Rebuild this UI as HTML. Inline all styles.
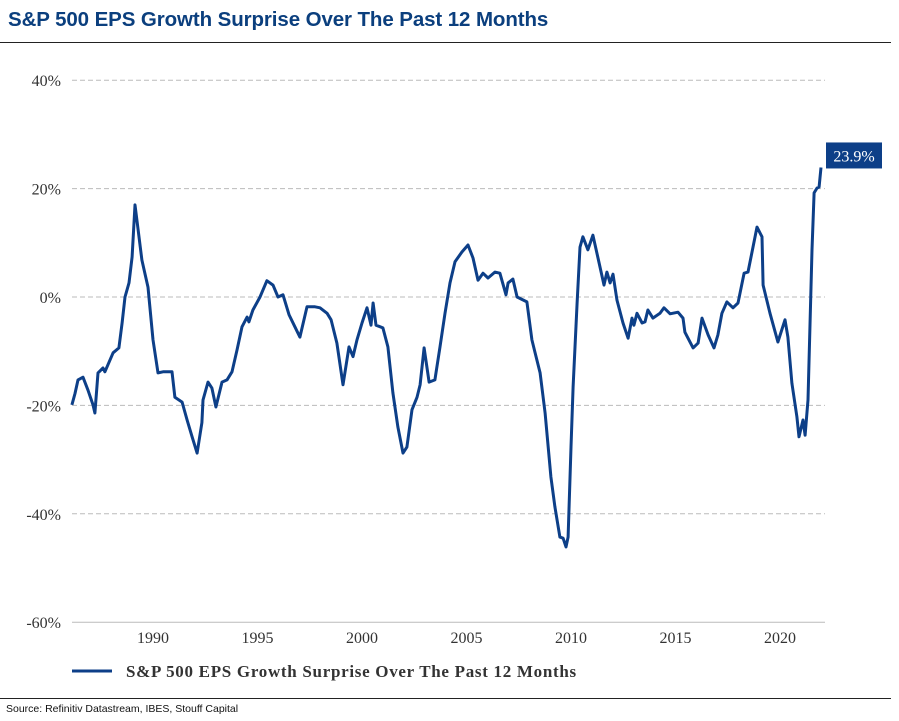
<!DOCTYPE html>
<html><head><meta charset="utf-8"><style>
body{margin:0;background:#fff;width:899px;height:721px;overflow:hidden;position:relative;font-family:"Liberation Sans",sans-serif}
#title{position:absolute;left:8px;top:8px;font-size:20.5px;font-weight:bold;color:#0b3f7e;letter-spacing:-0.1px}
#rule1{position:absolute;left:0;top:42px;width:891px;height:1px;background:#222}
#rule2{position:absolute;left:0;top:698px;width:891px;height:1px;background:#222}
#source{position:absolute;left:6px;top:703px;font-size:10.5px;color:#111}
svg{position:absolute;left:0;top:0}
</style></head><body>
<div id="title">S&amp;P 500 EPS Growth Surprise Over The Past 12 Months</div>
<div id="rule1"></div>
<svg id="chart" width="899" height="721"></svg>
<div id="rule2"></div>
<div id="source">Source: Refinitiv Datastream, IBES, Stouff Capital</div>
<script>
const years=[1986.12,1986.27,1986.41,1986.65,1986.89,1987.13,1987.22,1987.37,1987.61,1987.70,1988.09,1988.37,1988.52,1988.66,1988.85,1989.00,1989.14,1989.23,1989.47,1989.76,1990.00,1990.24,1990.48,1990.91,1991.05,1991.39,1991.63,1991.87,1992.11,1992.34,1992.39,1992.63,1992.82,1993.01,1993.30,1993.54,1993.78,1994.02,1994.26,1994.50,1994.59,1994.78,1995.12,1995.45,1995.74,1995.98,1996.22,1996.51,1996.79,1997.03,1997.37,1997.75,1997.99,1998.33,1998.52,1998.80,1999.09,1999.38,1999.57,1999.76,2000.00,2000.24,2000.43,2000.53,2000.67,2001.00,2001.24,2001.48,2001.72,2001.96,2002.15,2002.39,2002.63,2002.78,2002.97,2003.21,2003.49,2003.73,2003.97,2004.21,2004.45,2004.78,2005.07,2005.31,2005.55,2005.79,2006.03,2006.36,2006.60,2006.89,2006.99,2007.22,2007.42,2007.89,2008.13,2008.28,2008.52,2008.76,2009.04,2009.23,2009.47,2009.62,2009.76,2009.86,2010.00,2010.10,2010.29,2010.43,2010.57,2010.81,2011.05,2011.29,2011.58,2011.72,2011.87,2012.01,2012.20,2012.49,2012.73,2012.92,2013.01,2013.16,2013.40,2013.54,2013.68,2013.92,2014.26,2014.45,2014.74,2015.12,2015.36,2015.45,2015.84,2016.08,2016.27,2016.56,2016.84,2017.03,2017.22,2017.46,2017.75,2017.99,2018.28,2018.47,2018.90,2019.14,2019.19,2019.52,2019.90,2020.24,2020.38,2020.57,2020.81,2020.91,2021.10,2021.20,2021.34,2021.53,2021.63,2021.77,2021.87,2021.96];
const values=[-19.9,-17.8,-15.3,-14.8,-17.2,-19.9,-21.4,-14,-13.1,-13.8,-10.3,-9.4,-4.8,0,2.6,7.4,17,14.2,6.8,1.8,-7.9,-14,-13.8,-13.8,-18.5,-19.4,-22.7,-25.8,-28.8,-23.2,-19,-15.7,-16.8,-20.3,-15.7,-15.3,-13.8,-9.8,-5.5,-3.7,-4.6,-2.4,0,3,2.2,0,0.4,-3.3,-5.5,-7.4,-1.8,-1.8,-2.0,-3,-4.2,-8.5,-16.2,-9.2,-11,-7.9,-4.8,-2,-5.2,-1.1,-5.2,-5.7,-9.2,-17.7,-24,-28.8,-27.7,-20.8,-18.5,-16.2,-9.4,-15.7,-15.3,-9.2,-3,2.6,6.5,8.3,9.6,7.2,3.1,4.4,3.5,4.6,4.4,0.4,2.6,3.3,0,-0.9,-7.9,-10.3,-14,-21.4,-33.2,-38.7,-44.3,-44.5,-46.1,-44.3,-27.7,-16.6,-1.1,9.2,11.1,8.7,11.4,7.2,2.2,4.6,2.6,4.2,-0.6,-4.8,-7.6,-3.9,-5.2,-3,-4.8,-4.6,-2.4,-3.9,-3,-2,-3.1,-2.8,-3.9,-6.5,-9.4,-8.5,-3.9,-7,-9.4,-7,-3,-0.9,-2,-1.1,4.4,4.6,12.9,11.1,2.2,-3,-8.3,-4.2,-7.4,-15.9,-22.1,-25.8,-22.7,-25.5,-19,8.7,19.2,20.1,20.3,23.9];
const yTicks=[40,20,0,-20,-40,-60];
const yTickLabels=["40%","20%","0%","-20%","-40%","-60%"];
const xTicks=[1990,1995,2000,2005,2010,2015,2020];
const lastLabel="23.9%";
const seriesName="S&P 500 EPS Growth Surprise Over The Past 12 Months";

const NS="http://www.w3.org/2000/svg";
const svg=document.getElementById('chart');
const X=y=>153+(y-1990)*20.9;
const Y=v=>297-v*5.42;
function mk(t,a,p){const e=document.createElementNS(NS,t);for(const k in a)e.setAttribute(k,a[k]);(p||svg).appendChild(e);return e;}
yTicks.forEach((v,i)=>{
  const g=mk('line',{x1:72,x2:825,y1:Y(v),y2:Y(v),stroke:'#bbb','stroke-width':1,'stroke-dasharray':v===-60?'none':'5,3'});
  
  
  const t=mk('text',{x:61,y:Y(v)+6,'text-anchor':'end','font-family':'Liberation Serif, serif','font-size':16,fill:'#333'});
  t.textContent=yTickLabels[i];
  
  
});
xTicks.forEach(yr=>{
  const t=mk('text',{x:X(yr),y:643,'text-anchor':'middle','font-family':'Liberation Serif, serif','font-size':16,fill:'#333'});
  t.textContent=yr;
  
  
});
const d=years.map((yr,i)=>(i?'L':'M')+X(yr).toFixed(1)+','+Y(values[i]).toFixed(1)).join('');
const path=mk('path',{d:d,fill:'none',stroke:'#0d3f88','stroke-width':3,'stroke-linejoin':'round'});


const lv=values[values.length-1];
const box=mk('rect',{x:826,y:Y(lv)-25,width:56,height:26,fill:'#0d3f88'});


const bt=mk('text',{x:854,y:Y(lv)-6,'text-anchor':'middle','font-family':'Liberation Serif, serif','font-size':16,fill:'#fff'});
bt.textContent=lastLabel;


const ll=mk('line',{x1:72,x2:112,y1:671,y2:671,stroke:'#0d3f88','stroke-width':3});


const lt=mk('text',{x:126,y:677,'font-family':'Liberation Serif, serif','font-size':17,'font-weight':'bold',fill:'#333','letter-spacing':'0.7'});
lt.textContent=seriesName;


</script>
</body></html>
